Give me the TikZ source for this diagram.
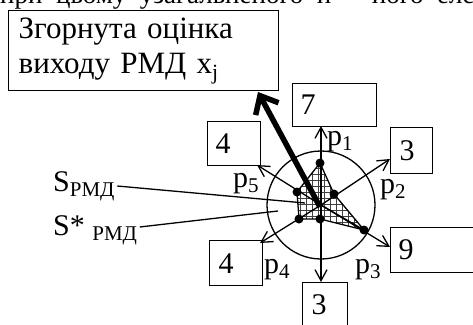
\documentclass[tikz,border=0pt]{standalone}
\usepackage{fontspec}
\setmainfont{Liberation Serif}
\usetikzlibrary{arrows.meta,calc}
\begin{document}
\begin{tikzpicture}[x=1pt,y=-1pt,
  bigfont/.style={font=\fontsize{30}{35}\selectfont},
  numbox/.style={draw, line width=1.3pt, anchor=north west, inner ysep=0pt, inner xsep=8pt, align=left, bigfont},
  axisline/.style={line width=1.3pt, -{Straight Barb[length=11pt,width=12pt,line width=1.3pt]}},
  plainline/.style={line width=1.3pt},
  thickarrow/.style={line width=5.5pt, -{Straight Barb[length=15pt,width=26pt,line width=5.5pt]}},
  dot/.style={circle, fill=black, inner sep=0pt, minimum size=9pt},
  lbl/.style={bigfont, inner sep=0pt, anchor=base west},
  gridline/.style={line width=0.8pt, black!75},
]
\useasboundingbox (0,0) rectangle (473,324);

% clipped line of text at the top
\begin{scope}
\clip (0,0) rectangle (473,11);
\node[lbl, font=\fontsize{27}{32}\selectfont] (topline) at (0,4) {при\ \ цьому\ \ узагальненого\ \ й\ \ \ \ \ \ його\ \ елем};
\end{scope}

% boxes
\node[numbox, minimum width=270, minimum height=80, text width=250, inner xsep=10pt, font=\fontsize{31}{35}\selectfont] (sum) at (8,10) {Згорнута оцінка\\виходу РМД x\textsubscript{j}};
\node[numbox, minimum width=84, minimum height=43, text width=68] (b7) at (292,83) {7};
\node[numbox, minimum width=53, minimum height=44, text width=37] (b4a) at (207,121) {4};
\node[numbox, minimum width=42, minimum height=46, text width=24, inner xsep=9pt] (b3a) at (390,127) {3};
\node[numbox, minimum width=95, minimum height=45, text width=79] (b9) at (390,227) {9};
\node[numbox, minimum width=52, minimum height=45, text width=35, inner xsep=9pt] (b4b) at (209,240) {4};
\node[numbox, minimum width=45, minimum height=44, text width=27, inner xsep=9pt] (b3b) at (302,282) {3};

% circle
\coordinate (c) at (321,205);
\node[circle, draw, line width=1.3pt, minimum size=108pt, inner sep=0pt] (circ) at (c) {};

% polygon vertices
\coordinate (v1) at (320,163);
\coordinate (v2) at (334,194);
\coordinate (v3) at (364,230);
\coordinate (v4) at (320,219);
\coordinate (v5) at (299,219);
\coordinate (v6) at (297,192);

% grid hatching
\begin{scope}
\clip (v1) -- (v2) -- (v3) -- (v4) -- (v5) -- (v6) -- cycle;
\draw[gridline] (288,156) grid[step=6pt] (370,236);
\end{scope}
\draw[plainline, line join=round] (v1) -- (v2) -- (v3) -- (v4) -- (v5) -- (v6) -- cycle;
\draw[plainline] (v3) -- (c);

% arrow tips
\coordinate (t1) at (321,126);
\coordinate (t2) at (390,159);
\coordinate (t3) at (390,247);
\coordinate (t4) at (321,282);
\coordinate (t5) at (260,243);
\coordinate (t6) at (257,165);

\draw[axisline] (c) -- (t1);
\draw[axisline] (c) -- (t2);
\draw[axisline] (c) -- (t3);
\draw[axisline] (c) -- (t4);
\draw[axisline] (c) -- (t5);
\draw[axisline] (c) -- (t6);

% dots
\foreach \v in {1,...,6} \node[dot] (d\v) at (v\v) {};

% axis labels
\node[lbl] (p1) at (327,145) {p\textsubscript{1}};
\node[lbl] (p2) at (380,193) {p\textsubscript{2}};
\node[lbl] (p3) at (355,273) {p\textsubscript{3}};
\node[lbl] (p4) at (264,273) {p\textsubscript{4}};
\node[lbl] (p5) at (233,187) {p\textsubscript{5}};

% S labels
\node[lbl] (s1) at (53,191) {S\textsubscript{РМД}};
\node[lbl] (s2) at (53,235) {S* \textsubscript{РМД}};
\coordinate (s1e) at (305,203);
\coordinate (s2e) at (278,211);
\draw[plainline] (s1.east |- 0,186) ++(2,0) -- (s1e);
\draw[plainline] (s2.east |- 0,227) ++(2,0) -- (s2e);

% thick arrow
\coordinate (ts) at (320,207);
\coordinate (tt) at (258,92);
\draw[thickarrow] (ts) -- (tt);
\end{tikzpicture}
\end{document}
